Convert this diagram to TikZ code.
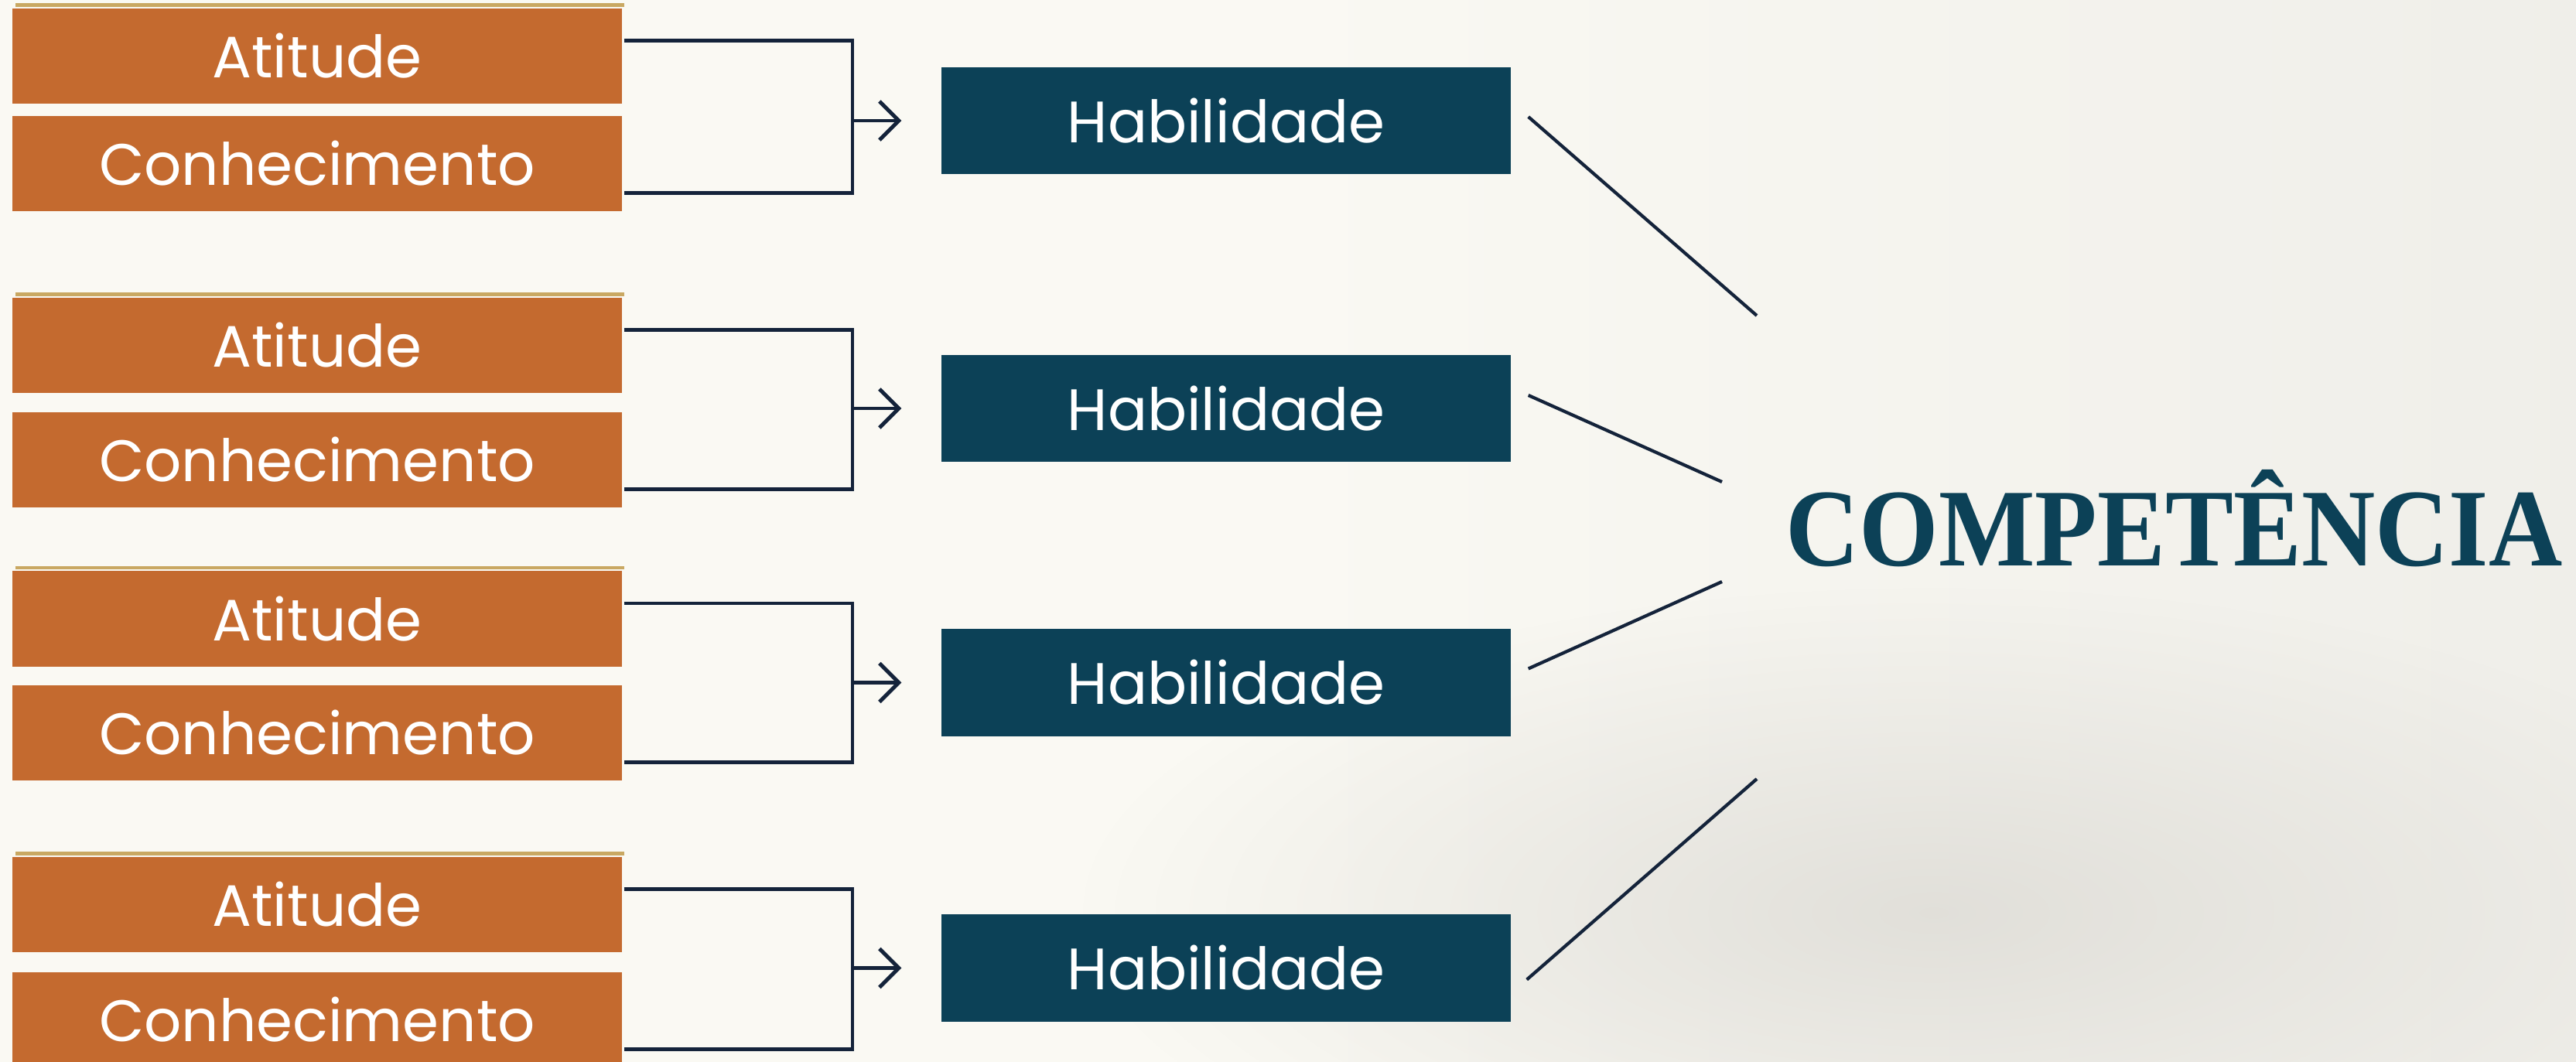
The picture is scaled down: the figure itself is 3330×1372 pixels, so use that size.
\documentclass[tikz,border=0pt]{standalone}
\usepackage{graphicx}
\usepackage{fontspec}
\newfontfamily\caixafont{Poppins}
\newfontfamily\titulofont{Liberation Serif}
\usepackage{tikz}
\usetikzlibrary{positioning,arrows.meta,fadings}
\definecolor{barro}{HTML}{C46A2F}
\definecolor{ouro}{HTML}{C9A862}
\definecolor{petroleo}{HTML}{0C4157}
\definecolor{tinta}{HTML}{14233A}
\definecolor{fundoA}{HTML}{FAF9F3}
\definecolor{fundoB}{HTML}{EEEDE8}
\definecolor{fundoC}{HTML}{E6E5E0}
\definecolor{nevoa}{HTML}{D9D7D1}
\pgfdeclarehorizontalshading{fundo}{100bp}{color(0bp)=(fundoA); color(50bp)=(fundoA); color(78bp)=(fundoB); color(100bp)=(fundoC)}
\tikzfading[name=suave, inner color=transparent!0, outer color=transparent!100]
\tikzset{every picture/.style={line width=1.4pt}}
\tikzset{
  saber/.style={fill=barro, text=white, minimum width=7.88cm, minimum height=1.23cm,
    inner sep=0pt, font=\caixafont\fontsize{21.5}{26}\selectfont},
  habil/.style={fill=petroleo, text=white, minimum width=7.36cm, minimum height=1.38cm,
    inner sep=0pt, font=\caixafont\fontsize{21.5}{26}\selectfont},
  filete/.style={draw=ouro, line width=1.2pt},
  chave/.style={draw=tinta},
  seta/.style={draw=tinta, -{Straight Barb[length=2.5mm,width=5mm]}, shorten >=4.9mm},
  raio/.style={draw=tinta, line width=1.2pt}
}

\begin{document}
\begin{tikzpicture}[x=0.01cm, y=-0.01cm]
\useasboundingbox (0,0) rectangle (3330,1372);
\shade [shading=fundo] (0,0) rectangle (3330,1372);
\fill [nevoa, opacity=0.7, path fading=suave] (2500,1180) ellipse [x radius=1100, y radius=420];

% atitude e conhecimento
\node (a1) [saber] at (410,72.5) {Atitude};
\node (c1) [saber] at (410,211.5) {Conhecimento};
\node (a2) [saber] at (410,446.5) {Atitude};
\node (c2) [saber] at (410,594.5) {Conhecimento};
\node (a3) [saber] at (410,800) {Atitude};
\node (c3) [saber] at (410,947.5) {Conhecimento};
\node (a4) [saber] at (410,1169.5) {Atitude};
\node (c4) [saber] at (410,1318.5) {Conhecimento};
\draw [filete] ([xshift=0.07cm,yshift=0.02cm]a1.north west) -- ([yshift=0.02cm]a1.north east);
\draw [filete] ([xshift=0.07cm,yshift=0.02cm]a2.north west) -- ([yshift=0.02cm]a2.north east);
\draw [filete] ([xshift=0.07cm,yshift=0.02cm]a3.north west) -- ([yshift=0.02cm]a3.north east);
\draw [filete] ([xshift=0.07cm,yshift=0.02cm]a4.north west) -- ([yshift=0.02cm]a4.north east);

% habilidades
\node (h1) [habil] at (1585,156) {Habilidade};
\node (h2) [habil] at (1585,528) {Habilidade};
\node (h3) [habil] at (1585,882.5) {Habilidade};
\node (h4) [habil] at (1585,1251.5) {Habilidade};

\node (comp) [anchor=base west, inner sep=0pt, text=petroleo] at (2306,731)
  {\resizebox{10.03cm}{1.24cm}{\titulofont\bfseries COMPETÊNCIA}};

% chaves
\coordinate (k1) at (1102,156);
\coordinate (k2) at (1102,528);
\coordinate (k3) at (1102,882.5);
\coordinate (k4) at (1102,1251.5);
\draw [chave] ([yshift=0.2cm]a1.east) -| (k1) |- ([yshift=-0.38cm]c1.east);
\draw [chave] ([yshift=0.2cm]a2.east) -| (k2) |- ([yshift=-0.38cm]c2.east);
\draw [chave] ([yshift=0.2cm]a3.east) -| (k3) |- ([yshift=-0.38cm]c3.east);
\draw [chave] ([yshift=0.2cm]a4.east) -| (k4) |- ([yshift=-0.38cm]c4.east);
\draw [seta] (k1) -- (h1.west);
\draw [seta] (k2) -- (h2.west);
\draw [seta] (k3) -- (h3.west);
\draw [seta] (k4) -- (h4.west);

% raios
\coordinate (r1) at (2271,408);
\coordinate (r2) at (2226,623);
\coordinate (r3) at (2226,752);
\coordinate (r4) at (2271,1007);
\draw [raio] ([xshift=0.2cm,yshift=0.05cm]h1.east) -- (r1);
\draw [raio] ([xshift=0.2cm,yshift=0.17cm]h2.east) -- (r2);
\draw [raio] ([xshift=0.2cm,yshift=0.18cm]h3.east) -- (r3);
\draw [raio] ([xshift=0.18cm,yshift=-0.15cm]h4.east) -- (r4);
\end{tikzpicture}
\end{document}
